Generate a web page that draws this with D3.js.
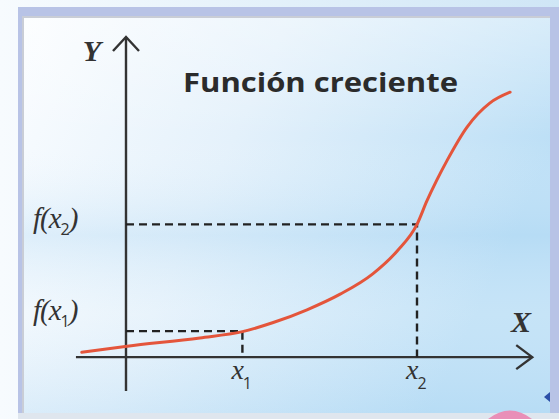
<!DOCTYPE html>
<html>
<head>
<meta charset="utf-8">
<script src="https://cdn.jsdelivr.net/npm/d3@7"></script>
<style>
  html, body { margin: 0; padding: 0; background: #f4f9fd; }
  svg { display: block; }
</style>
</head>
<body>
<div id="chart"></div>
<script>
// curve points (data units)
var curveX = [-0.76, 0.02, 1.27, 2.0, 2.53, 3.11, 3.68, 4.24, 4.66, 5.0, 5.17, 5.34, 5.52, 5.86, 6.25, 6.6];
var curveY = [0.19, 0.42, 0.74, 0.98, 1.33, 1.82, 2.42, 3.2, 4.08, 5.1, 6.0, 6.8, 7.57, 8.84, 9.76, 10.18];

// marked points
var markX = [2, 5];
var markY = [1, 5.1];
var xTickLabels = ["x", "x"];
var xTickSubs = ["1", "2"];
var yTickSubs = ["1", "2"];

var title = "Función creciente";

////////////////basic layout//////////////////
var W = 559, H = 419;

var svg = d3.select("#chart")
  .append("svg")
    .attr("width", W)
    .attr("height", H);

var defs = svg.append("defs");

// background outside the frame
var bgOut = defs.append("linearGradient").attr("id", "bgOut")
    .attr("x1", "0").attr("y1", "0").attr("x2", "1").attr("y2", "0");
bgOut.append("stop").attr("offset", "0%").attr("stop-color", "#f7fbfe");
bgOut.append("stop").attr("offset", "100%").attr("stop-color", "#cfe6f6");

// inside frame: white left -> light blue right
var bgIn = defs.append("linearGradient").attr("id", "bgIn")
    .attr("x1", "0").attr("y1", "0").attr("x2", "1").attr("y2", "0.35");
bgIn.append("stop").attr("offset", "0%").attr("stop-color", "#fbfdff");
bgIn.append("stop").attr("offset", "45%").attr("stop-color", "#e4f1fb");
bgIn.append("stop").attr("offset", "100%").attr("stop-color", "#bcdff6");

// soft horizontal banding
var bands = defs.append("linearGradient").attr("id", "bands")
    .attr("x1", "0").attr("y1", "0").attr("x2", "0").attr("y2", "1");
bands.append("stop").attr("offset", "0%").attr("stop-color", "#ffffff").attr("stop-opacity", 0.35);
bands.append("stop").attr("offset", "30%").attr("stop-color", "#ffffff").attr("stop-opacity", 0);
bands.append("stop").attr("offset", "55%").attr("stop-color", "#a8d4f2").attr("stop-opacity", 0.28);
bands.append("stop").attr("offset", "75%").attr("stop-color", "#ffffff").attr("stop-opacity", 0.15);
bands.append("stop").attr("offset", "100%").attr("stop-color", "#a8d4f2").attr("stop-opacity", 0.25);

svg.append("rect").attr("width", W).attr("height", H).attr("fill", "url(#bgOut)");

// frame
svg.append("rect")
    .attr("x", 18).attr("y", 7).attr("width", W - 18).attr("height", 408)
    .attr("fill", "#b8c3e6");
svg.append("rect")
    .attr("x", 22).attr("y", 16).attr("width", 528).attr("height", 397)
    .attr("fill", "#c9cdd6");
svg.append("rect")
    .attr("x", 24).attr("y", 18).attr("width", 526).attr("height", 395)
    .attr("fill", "url(#bgIn)");
svg.append("rect")
    .attr("x", 24).attr("y", 18).attr("width", 526).attr("height", 395)
    .attr("fill", "url(#bands)");
svg.append("rect")
    .attr("x", 18).attr("y", 413).attr("width", W - 18).attr("height", 6)
    .attr("fill", "#dfe6ee");

// bits of the next slide peeking in
svg.append("path")
    .attr("d", "M488,419 Q510,402 532,419 Z")
    .attr("fill", "#e98fb8");
svg.append("path")
    .attr("d", "M544,397 L550,392 L550,402 Z")
    .attr("fill", "#2b4fa8");

// scales
var x = d3.scaleLinear().domain([-1, 7]).range([67.8, 533.4]);
var y = d3.scaleLinear().domain([-1.3, 12.3]).range([391, 37]);

var axisColor = "#333333";

// X axis
svg.append("line")
    .attr("x1", x(-0.86)).attr("x2", x(6.98))
    .attr("y1", y(0)).attr("y2", y(0))
    .attr("stroke", axisColor).attr("stroke-width", 2.4);
svg.append("path")
    .attr("d", "M" + (x(6.98) - 16) + "," + (y(0) - 12) +
               " L" + x(6.98) + "," + y(0) +
               " L" + (x(6.98) - 16) + "," + (y(0) + 12))
    .attr("fill", "none").attr("stroke", axisColor).attr("stroke-width", 2.4);

// Y axis
svg.append("line")
    .attr("x1", x(0)).attr("x2", x(0))
    .attr("y1", y(-1.3)).attr("y2", y(12.3))
    .attr("stroke", axisColor).attr("stroke-width", 2.4);
svg.append("path")
    .attr("d", "M" + (x(0) - 13) + "," + (y(12.3) + 14) +
               " L" + x(0) + "," + y(12.3) +
               " L" + (x(0) + 13) + "," + (y(12.3) + 14))
    .attr("fill", "none").attr("stroke", axisColor).attr("stroke-width", 2.4);

// dashed guides
markX.forEach(function(mx, i) {
    svg.append("path")
        .attr("d", "M" + x(0) + "," + y(markY[i]) +
                   " L" + x(mx) + "," + y(markY[i]) +
                   " L" + x(mx) + "," + y(0))
        .attr("fill", "none")
        .attr("stroke", "#222")
        .attr("stroke-width", 2.4)
        .attr("stroke-dasharray", "8,5");
});

// the curve
var pts = curveX.map(function(d, i) { return [d, curveY[i]]; });
svg.append("path")
    .datum(pts)
    .attr("fill", "none")
    .attr("stroke", "#e4553b")
    .attr("stroke-width", 3)
    .attr("stroke-linecap", "round")
    .attr("d", d3.line()
        .x(function(d) { return x(d[0]); })
        .y(function(d) { return y(d[1]); })
        .curve(d3.curveMonotoneX));

var serif = "'Liberation Serif', 'DejaVu Serif', serif";

// axis names
svg.append("text")
    .attr("x", 92).attr("y", 61)
    .attr("text-anchor", "middle")
    .attr("font-family", serif)
    .attr("font-style", "italic").attr("font-weight", "bold")
    .attr("font-size", "30px").attr("fill", "#333")
    .text("Y");
svg.append("text")
    .attr("x", 521).attr("y", 332)
    .attr("text-anchor", "middle")
    .attr("font-family", serif)
    .attr("font-style", "italic").attr("font-weight", "bold")
    .attr("font-size", "30px").attr("fill", "#333")
    .text("X");

// x tick labels
markX.forEach(function(mx, i) {
    var t = svg.append("text")
        .attr("x", x(mx) - 11).attr("y", 379)
        .attr("font-family", serif)
        .attr("font-style", "italic")
        .attr("font-size", "28px").attr("fill", "#333");
    t.append("tspan").text(xTickLabels[i]);
    t.append("tspan")
        .attr("dy", 10).attr("dx", -1).attr("font-size", "16px").attr("font-style", "normal")
        .attr("font-family", "'Open Sans', sans-serif")
        .text(xTickSubs[i]);
});

// y tick labels f(x1), f(x2)
markY.forEach(function(my, i) {
    var t = svg.append("text")
        .attr("x", 33).attr("y", y(my) + (i === 0 ? -11 : 4))
        .attr("font-family", serif)
        .attr("font-style", "italic")
        .attr("font-size", "29px").attr("fill", "#333")
        .attr("letter-spacing", "-1px");
    t.append("tspan").text("f(x");
    t.append("tspan")
        .attr("dy", 7).attr("font-size", "16px").attr("font-style", "normal")
        .attr("font-family", "'Open Sans', sans-serif")
        .text(yTickSubs[i]);
    t.append("tspan").attr("dy", -7).text(")");
});

// title
svg.append("text")
    .attr("x", 183).attr("y", 92)
    .attr("font-family", "'Open Sans', sans-serif")
    .attr("font-weight", "bold")
    .attr("font-size", "27px")
    .attr("fill", "#2b2b2b")
    .attr("textLength", 275)
    .attr("lengthAdjust", "spacingAndGlyphs")
    .text(title);
</script>
</body>
</html>
